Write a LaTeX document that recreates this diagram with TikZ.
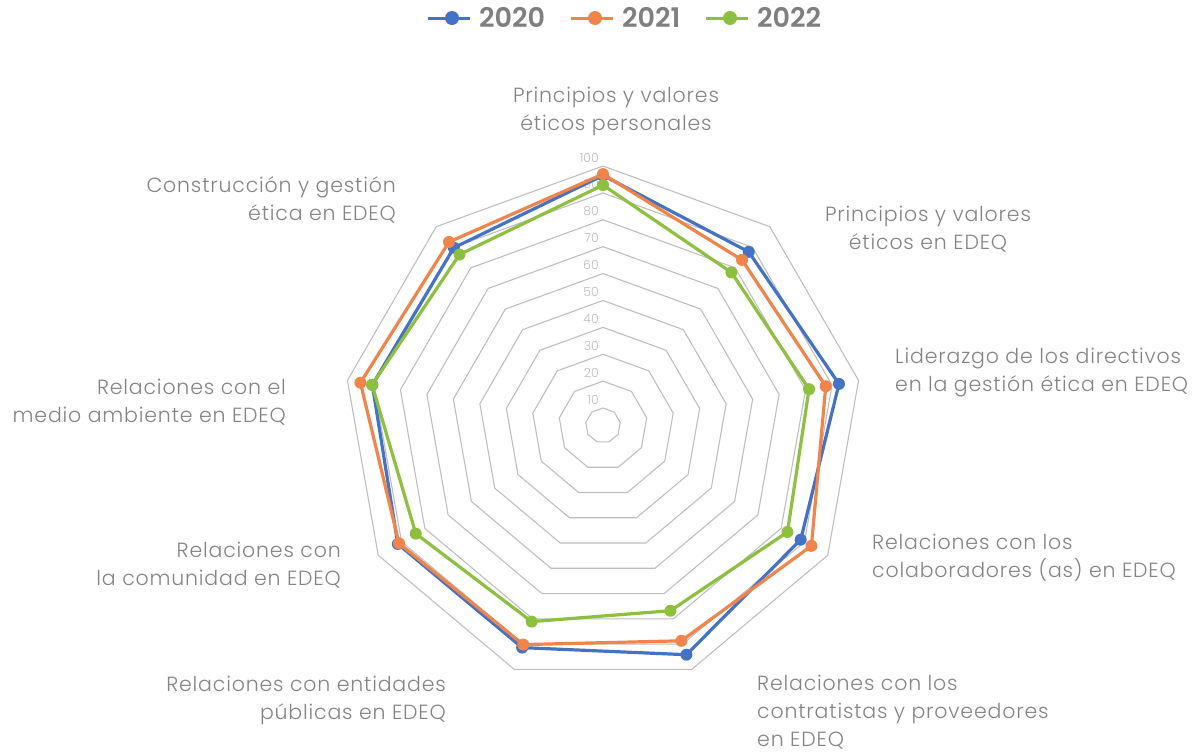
\documentclass[tikz,border=0pt]{standalone}
\usepackage{fontspec}
\usetikzlibrary{calc}
\setmainfont{Poppins}[UprightFont={* Light},BoldFont={* SemiBold}]
\newfontfamily\lblfont{Poppins}[UprightFont={* Light},LetterSpace=4]
\newfontfamily\legfont{Poppins}[UprightFont={* SemiBold}]
\definecolor{sblue}{HTML}{4472C4}
\definecolor{sorange}{HTML}{F0844A}
\definecolor{sgreen}{HTML}{8CC03E}
\definecolor{gridgray}{HTML}{BFBFBF}
\definecolor{labelgray}{HTML}{858585}
\definecolor{tickgray}{HTML}{BDBDBD}
\definecolor{leggray}{HTML}{7F7F7F}
\tikzset{
  gridline/.style={draw=gridgray, line width=1.1pt},
  series/.style={line width=3.2pt, line join=round},
  lbl/.style={text=labelgray, font=\lblfont\fontsize{20.5}{28}\selectfont, inner sep=0pt},
  ticklbl/.style={text=tickgray, font=\fontsize{12.5}{13}\selectfont, inner sep=0pt, anchor=east},
  legtext/.style={text=leggray, font=\legfont\fontsize{27}{28}\selectfont, inner sep=0pt, anchor=west}
}
\begin{document}
\begin{tikzpicture}[x=1pt,y=1pt]
\useasboundingbox (0,0) rectangle (1196,-753);
\coordinate (C) at (603,-425.5);
% rings
\foreach \v in {10,20,...,100}{
  \pgfmathsetmacro\r{-9.4+2.689*\v}
  \draw[gridline, shift={(C)}] (90:\r) \foreach \k in {1,...,8}{ -- ({90-40*\k}:\r)} -- cycle;
  \node[ticklbl] (t\v) at ($(C)+(-4,\r+8.5)$) {\v};
}
% series
\foreach \name/\col/\vals in {
  a/sblue/{96.5,87.8,92.6,88.4,94.2,91.4,91.6,90.6,89.8},
  b/sorange/{97.0,83.9,87.6,93.0,88.7,90.2,91.1,95.1,92.6},
  c/sgreen/{92.9,77.8,81.3,82.7,76.8,81.1,83.9,90.7,86.5}}{
  \foreach \v [count=\k from 0] in \vals {
    \pgfmathsetmacro\r{-9.4+2.689*\v}
    \coordinate (\name\k) at ($(C)+({90-40*\k}:\r)$);
  }
  \draw[series, draw=\col] (\name0) -- (\name1) -- (\name2) -- (\name3) -- (\name4) -- (\name5) -- (\name6) -- (\name7) -- (\name8) -- cycle;
  \foreach \k in {0,...,8}{
    \fill[\col] (\name\k) circle (6);
  }
}
% axis labels
\node[lbl, align=center] (l0) at (616,-111) {Principios y valores\\éticos personales};
\node[lbl, align=center] (l1) at (928,-229) {Principios y valores\\éticos en EDEQ};
\node[lbl, align=left, anchor=west] (l2) at (895,-373) {Liderazgo de los directivos\\en la gestión ética en EDEQ};
\node[lbl, align=left, anchor=west] (l3) at (872,-557.5) {Relaciones con los\\colaboradores (as) en EDEQ};
\node[lbl, align=left, anchor=west] (l4) at (757,-712.5) {Relaciones con los\\contratistas y proveedores\\en EDEQ};
\node[lbl, align=right, anchor=east] (l5) at (446,-700) {Relaciones con entidades\\públicas en EDEQ};
\node[lbl, align=right, anchor=east] (l6) at (341,-565) {Relaciones con\\la comunidad en EDEQ};
\node[lbl, align=right, anchor=east] (l7) at (286,-402) {Relaciones con el\\medio ambiente en EDEQ};
\node[lbl, align=right, anchor=east] (l8) at (396,-200) {Construcción y gestión\\ética en EDEQ};
% legend
\foreach \x/\col/\yr in {428/sblue/2020, 571/sorange/2021, 706/sgreen/2022}{
  \coordinate (ls\yr) at (\x,-18);
  \coordinate (le\yr) at (\x+42,-18);
  \draw[line width=3pt, draw=\col] (ls\yr) -- (le\yr);
  \fill[\col] ($(ls\yr)+(24,0)$) circle (7);
  \node[legtext] (leg\yr) at (\x+51,-17.5) {\yr};
}
\end{tikzpicture}
\end{document}
